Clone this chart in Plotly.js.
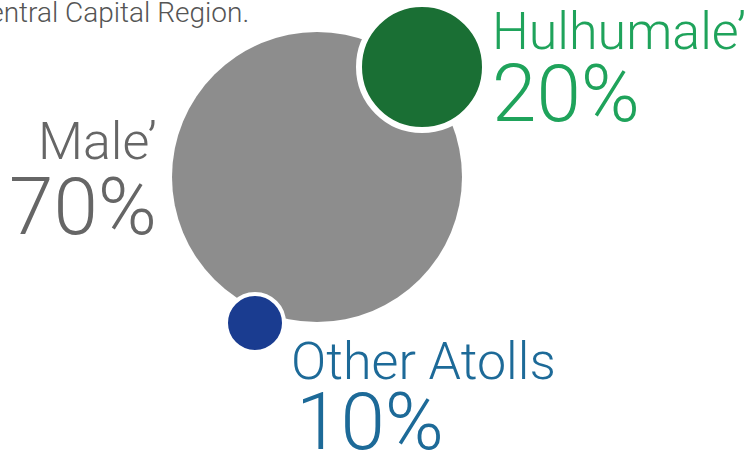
<!DOCTYPE html>
<html>
<head>
<meta charset="utf-8">
<script src="https://cdn.plot.ly/plotly-3.0.1.min.js"></script>
<style>html,body{margin:0;padding:0;background:#fff;}#chart{width:752px;height:454px;}</style>
</head>
<body>
<div id="chart"></div>
<script>
// ---- data ----
const regions = ['Male\u2019', 'Hulhumale\u2019', 'Other Atolls'];
const shares = [70, 20, 10];
const caption = 'Central Capital Region.';

// ---- layout / style (pixel space: x 0..752, y 0..454 downward) ----
const bubbleX = [317, 422, 255];
const bubbleY = [177, 67, 323];
const bubbleSize = [290, 126, 58];
const ringWidth = [0, 6, 4];
const fillColors = ['#8d8d8d', '#1a6f34', '#1a3c90'];
const textColors = ['#666666', '#1fa35b', '#1d6a98'];
const FONT = '"Roboto Light", Roboto, sans-serif';

const labelPos = [
  {x: 159, y: 141, anchor: 'right'},
  {x: 490, y: 31, anchor: 'left'},
  {x: 289, y: 361, anchor: 'left'}
];
const valuePos = [
  {x: 159, y: 207, anchor: 'right'},
  {x: 490, y: 94, anchor: 'left'},
  {x: 294, y: 422, anchor: 'left'}
];

const trace = {
  type: 'scatter',
  mode: 'markers',
  x: bubbleX,
  y: bubbleY,
  text: regions,
  hoverinfo: 'text',
  marker: {
    size: bubbleSize,
    color: fillColors,
    line: {color: '#ffffff', width: ringWidth},
    opacity: 1
  },
  showlegend: false
};

const annotations = [];
regions.forEach((r, i) => {
  annotations.push({
    xref: 'x', yref: 'y', x: labelPos[i].x, y: labelPos[i].y,
    xanchor: labelPos[i].anchor, yanchor: 'middle', showarrow: false,
    text: r, font: {family: FONT, size: 52, weight: 300, color: textColors[i]}
  });
  annotations.push({
    xref: 'x', yref: 'y', x: valuePos[i].x, y: valuePos[i].y,
    xanchor: valuePos[i].anchor, yanchor: 'middle', showarrow: false,
    text: shares[i] + '%', font: {family: FONT, size: 80, weight: 300, color: textColors[i]}
  });
});
annotations.push({
  xref: 'x', yref: 'y', x: 251, y: 12, xanchor: 'right', yanchor: 'middle', showarrow: false,
  text: caption, font: {family: FONT, size: 28, weight: 300, color: '#555555'}
});

const layout = {
  width: 752, height: 454,
  margin: {l: 0, r: 0, t: 0, b: 0},
  paper_bgcolor: '#ffffff', plot_bgcolor: '#ffffff',
  xaxis: {range: [0, 752], visible: false, fixedrange: true},
  yaxis: {range: [454, 0], visible: false, fixedrange: true},
  annotations: annotations,
  showlegend: false
};

Plotly.newPlot('chart', [trace], layout, {displayModeBar: false, staticPlot: true});
</script>
</body>
</html>
